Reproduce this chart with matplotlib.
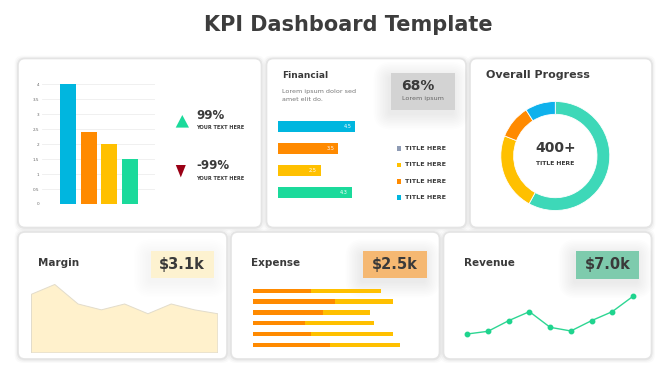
import matplotlib
matplotlib.use("Agg")
import matplotlib.pyplot as plt
from matplotlib.patches import FancyBboxPatch, Polygon, Rectangle
import numpy as np

plt.rcParams['font.family'] = ['DejaVu Sans']

# ---------------- data ----------------
title = "KPI Dashboard Template"

bar_values = [4, 2.4, 2, 1.5]
bar_colors = ["#00b6df", "#ff8a00", "#ffc000", "#1bda9b"]
bar_ticks = [0, 0.5, 1, 1.5, 2, 2.5, 3, 3.5, 4]
bar_tick_labels = ["0", "0.5", "1", "1.5", "2", "2.5", "3", "3.5", "4"]

kpi_up = "99%"
kpi_down = "-99%"
kpi_sub = "YOUR TEXT HERE"

fin_values = [4.5, 3.5, 2.5, 4.3]
fin_labels = ["4.5", "3.5", "2.5", "4.3"]
fin_colors = ["#00b6df", "#ff8a00", "#ffc000", "#1bda9b"]
fin_legend_labels = ["TITLE HERE", "TITLE HERE", "TITLE HERE", "TITLE HERE"]
fin_legend_colors = ["#8e9bb4", "#ffc000", "#ff8a00", "#00b6df"]

donut_values = [58, 23, 10, 9]
donut_colors = ["#3dd8b8", "#ffc000", "#ff8a00", "#0fb1ec"]
donut_center = "400+"
donut_sub = "TITLE HERE"

margin_values = [6, 7, 5, 4.4, 5, 4, 5, 4.4, 4]
margin_kpi = "$3.1k"

expense_a = [17.5, 24.5, 21, 15.5, 17.5, 23]
expense_b = [20.9, 17.4, 14, 20.8, 24.4, 21]
expense_kpi = "$2.5k"

revenue_values = [2.2, 3.0, 6.2, 8.9, 4.2, 3.1, 6.2, 8.9, 13.5]
revenue_kpi = "$7.0k"

# ---------------- figure ----------------
W, H = 670, 376
fig = plt.figure(figsize=(W / 100, H / 100), dpi=100)
fig.patch.set_facecolor("white")

bg = fig.add_axes([0, 0, 1, 1], zorder=0)
bg.set_xlim(0, W)
bg.set_ylim(H, 0)
bg.axis("off")


def ax_px(x0, y0, x1, y1, z=2):
    a = fig.add_axes([x0 / W, 1 - y1 / H, (x1 - x0) / W, (y1 - y0) / H], zorder=z)
    a.patch.set_alpha(0)
    return a


def card(x0, y0, x1, y1):
    for i, al in enumerate([0.04, 0.03, 0.02]):
        e = 1 + i * 1.2
        bg.add_patch(FancyBboxPatch((x0 - e, y0 - e + 0.5), x1 - x0 + 2 * e, y1 - y0 + 2 * e,
                                    boxstyle="round,pad=0,rounding_size=8",
                                    facecolor="black", edgecolor="none", alpha=al, zorder=1))
    bg.add_patch(FancyBboxPatch((x0, y0), x1 - x0, y1 - y0,
                                boxstyle="round,pad=0,rounding_size=7",
                                facecolor="white", edgecolor="#e4e4e4", linewidth=1.2, zorder=2))


def value_box(x0, y0, x1, y1, color, shadow=True, strength=0.006):
    if shadow:
        for i in range(10):
            e = 1 + i * 1.6
            bg.add_patch(FancyBboxPatch((x0 - e - 2, y0 - e + 4), x1 - x0 + 2 * e, y1 - y0 + 2 * e,
                                        boxstyle="round,pad=0,rounding_size=%f" % (2 + e),
                                        facecolor="black", edgecolor="none", alpha=strength, zorder=3))
    bg.add_patch(Rectangle((x0, y0), x1 - x0, y1 - y0, facecolor=color,
                           edgecolor="none", zorder=4))


TXT = "#3a3a3a"


def txt(x, y, s, **kw):
    kw.setdefault("color", TXT)
    kw.setdefault("va", "center")
    kw.setdefault("ha", "left")
    bg.text(x, y, s, zorder=8, **kw)


txt(348, 25, title, ha="center", fontsize=15, fontweight="bold", color="#3d3d3d")

# cards
card(18, 58.5, 261.5, 227.5)
card(266.5, 58.5, 466, 227.5)
card(470, 58.5, 652, 227.5)
card(18, 232, 227, 359)
card(231, 232, 439.5, 359)
card(443.5, 232, 651.5, 359)

# ---------- card 1: vertical bars ----------
a1 = ax_px(41.7, 84.3, 155, 204)
xs = np.arange(len(bar_values))
a1.bar(xs, bar_values, width=0.77, color=bar_colors, zorder=3)
a1.set_xlim(-1.27, 4.21)
a1.set_ylim(0, 4)
a1.set_yticks(bar_ticks)
a1.set_yticklabels(bar_tick_labels, fontsize=3, color="#666666")
a1.set_xticks([])
a1.tick_params(axis="y", length=0, pad=2)
a1.grid(axis="y", color="#eeeeee", linewidth=0.6, zorder=0)
for s in a1.spines.values():
    s.set_visible(False)

bg.add_patch(Polygon([(175.7, 127.6), (189, 127.6), (182.3, 115)], closed=True,
                     facecolor="#1bda9b", edgecolor="none", zorder=5))
bg.add_patch(Polygon([(175.8, 165), (185.8, 165), (180.8, 177.4)], closed=True,
                     facecolor="#9a0015", edgecolor="none", zorder=5))
txt(196, 115.5, kpi_up, fontsize=8.5, fontweight="bold")
txt(196, 127.5, kpi_sub, fontsize=3.6, fontweight="bold")
txt(196, 165.5, kpi_down, fontsize=8.5, fontweight="bold")
txt(196, 178, kpi_sub, fontsize=3.6, fontweight="bold")

# ---------- card 2: financial ----------
txt(282.3, 76, "Financial", fontsize=6.5, fontweight="bold")
txt(282.3, 91.8, "Lorem ipsum dolor sed", fontsize=4.6, color="#777777")
txt(282.3, 99.3, "amet elit do.", fontsize=4.6, color="#777777")
value_box(391, 73.3, 455, 110, "#d3d3d3")
txt(401.5, 86, "68%", fontsize=10, fontweight="bold")
txt(401.5, 98.5, "Lorem ipsum", fontsize=4.6, color="#666666")

a2 = ax_px(278, 116, 363.5, 203.8)
ys = np.arange(len(fin_values))
a2.barh(ys, fin_values, height=0.5, color=fin_colors)
for y, v, lab in zip(ys, fin_values, fin_labels):
    a2.text(v - 0.45, y, lab, ha="center", va="center", fontsize=3.6, color="white")
a2.set_xlim(0, 5)
a2.set_ylim(3.5, -0.5)
a2.axis("off")

for i, (lab, c) in enumerate(zip(fin_legend_labels, fin_legend_colors)):
    yy = [148.3, 165, 181.2, 197.7][i]
    bg.add_patch(Rectangle((397, yy - 2.4), 4.4, 4.8, facecolor=c, edgecolor="none", zorder=5))
    txt(405, yy, lab, fontsize=4.6, fontweight="bold")

# ---------- card 3: donut ----------
txt(486.3, 75, "Overall Progress", fontsize=8, fontweight="bold")
cx, cy, r = 555.3, 156, 54.5
a3 = ax_px(cx - r, cy - r, cx + r, cy + r)
a3.pie(donut_values, colors=donut_colors, startangle=90, counterclock=False, radius=1,
       wedgeprops=dict(width=0.235, edgecolor="white", linewidth=0.6))
a3.set_xlim(-1, 1)
a3.set_ylim(-1, 1)
a3.set_aspect("equal")
a3.axis("off")
txt(cx, 148, donut_center, ha="center", fontsize=10, fontweight="bold")
txt(cx, 163.5, donut_sub, ha="center", fontsize=4.4, fontweight="bold")

# ---------- card 4: margin ----------
txt(38.3, 263, "Margin", fontsize=7.5, fontweight="bold")
value_box(151, 250.7, 213.7, 278, "#fdf2d0", strength=0.003)
txt(182.3, 264.5, margin_kpi, ha="center", fontsize=10.5, fontweight="bold")
a4 = ax_px(31, 274.2, 217.3, 352.3)
mx = np.arange(len(margin_values))
a4.fill_between(mx, 0, margin_values, facecolor="#fff1cc", edgecolor="#e2dccb", linewidth=0.7)
a4.set_xlim(0, len(margin_values) - 1)
a4.set_ylim(0, 8)
a4.axis("off")

# ---------- card 5: expense ----------
txt(251.3, 263, "Expense", fontsize=7.5, fontweight="bold")
value_box(363, 250.7, 426.7, 278, "#f5b872")
txt(394.8, 264.5, expense_kpi, ha="center", fontsize=10.5, fontweight="bold")
a5 = ax_px(253, 285.3, 406.3, 350.4)
ey = np.arange(len(expense_a))
a5.barh(ey, expense_a, height=0.4, color="#ff8a00")
a5.barh(ey, expense_b, left=expense_a, height=0.4, color="#ffc000")
a5.set_xlim(0, 46)
a5.set_ylim(5.5, -0.5)
a5.axis("off")

# ---------- card 6: revenue ----------
txt(464, 263, "Revenue", fontsize=7.5, fontweight="bold")
value_box(576, 250.7, 639, 278.7, "#7ecbad")
txt(607.5, 264.5, revenue_kpi, ha="center", fontsize=10.5, fontweight="bold")
a6 = ax_px(460, 290, 640, 341.3)
rx = np.arange(len(revenue_values))
a6.plot(rx, revenue_values, color="#2ed693", linewidth=1.0, marker="o", markersize=3.2,
        markerfacecolor="#1fd48e", markeredgecolor="#1fd48e")
a6.set_xlim(-0.352, 8.34)
a6.set_ylim(0, 15.4)
a6.axis("off")

fig.savefig("out.png", dpi=100, facecolor="white")
